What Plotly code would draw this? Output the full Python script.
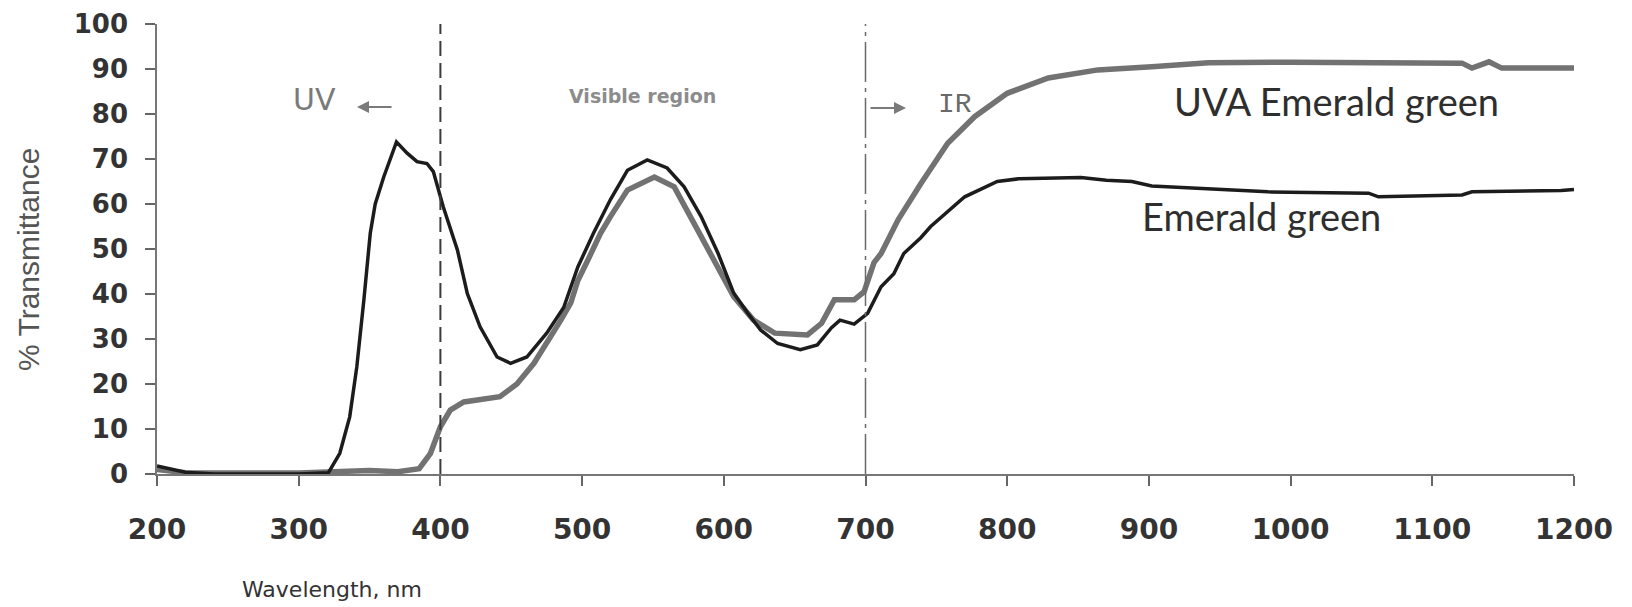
import plotly.graph_objects as go

# ---- data ----
eg_nm = [200, 210, 220, 240, 300, 321, 329, 336, 341, 346, 350.5, 354, 360, 369, 376.5, 383.5, 390.5,
         395, 402, 412, 419, 428, 440, 449.5, 461, 475, 487, 497, 508, 520, 532, 546, 560, 572, 584,
         596, 607, 617, 626, 638, 654, 666, 676, 682, 692, 701.5, 711, 720, 727, 739, 746, 770, 793,
         808, 852, 870, 888, 902, 937, 984, 1055, 1062, 1121, 1128, 1191, 1200]
eg_t = [1.8, 1.0, 0.4, 0, 0, 0.3, 4.6, 12.7, 23.8, 38.7, 53.5, 60, 66, 73.8, 71.3, 69.4, 69,
        67.2, 59.4, 49.8, 40.1, 32.7, 26, 24.6, 26, 31.3, 37, 46, 53.5, 61, 67.5, 69.8, 68, 63.8, 57.2,
        49, 40.2, 35.7, 32, 29, 27.6, 28.7, 32.5, 34.2, 33.3, 35.7, 41.6, 44.5, 49, 52.5, 55, 61.6, 65,
        65.6, 65.9, 65.3, 65, 64, 63.5, 62.7, 62.4, 61.6, 62, 62.7, 63, 63.2]

uva_nm = [200, 220, 300, 330, 350, 370, 385, 393, 400, 407, 416.5, 442, 454, 466, 480, 485, 492, 497,
          504, 508, 513, 520, 532, 551, 565, 579, 593, 607, 621, 636, 659, 669, 678, 692, 699, 706,
          711, 723, 739, 758, 777, 800, 829, 864, 902, 942, 1000, 1060, 1121, 1128, 1140, 1149, 1200]
uva_t = [1.0, 0.3, 0.2, 0.5, 0.8, 0.5, 1.2, 4.6, 10.5, 14.2, 16, 17.2, 20, 24.6, 31.3, 34.2, 38, 43,
         47.5, 50.5, 53.5, 57.2, 63.1, 66, 63.8, 55.7, 47.5, 39.4, 34.2, 31.3, 30.9, 33.5, 38.7, 38.7, 40.5, 47,
         49, 56.5, 64.5, 73.5, 79.4, 84.6, 88, 89.8, 90.5, 91.4, 91.5, 91.5, 91.3, 90.2, 91.6, 90.2, 90.2]

x_ticks = [200, 300, 400, 500, 600, 700, 800, 900, 1000, 1100, 1200]
y_ticks = [0, 10, 20, 30, 40, 50, 60, 70, 80, 90, 100]
region_bounds = [400, 700]

# ---- layout geometry (page pixels; the page body has an 8px margin) ----
OFF = 8
W, H = 1632 - OFF, 607 - OFF
L, R, T, B = 157 - OFF, 1574 - OFF, 24 - OFF, 474 - OFF
pw, ph = R - L, B - T


def px(xp):
    return (xp - OFF - L) / pw


def py(yp):
    return (B - (yp - OFF)) / ph


fig = go.Figure()
fig.add_trace(go.Scatter(x=uva_nm, y=uva_t, mode="lines", name="UVA Emerald green",
                         line=dict(color="#727272", width=5.5)))
fig.add_trace(go.Scatter(x=eg_nm, y=eg_t, mode="lines", name="Emerald green",
                         line=dict(color="#1c1c1c", width=3.5)))

fig.add_shape(type="line", x0=region_bounds[0], x1=region_bounds[0], y0=0, y1=100, xref="x", yref="y",
              line=dict(color="#3a3a3a", width=2, dash="15px,7px"))
fig.add_shape(type="line", x0=region_bounds[1], x1=region_bounds[1], y0=0, y1=100, xref="x", yref="y",
              line=dict(color="#6a6a6a", width=1.5, dash="40px,6px,4px,6px"))

ann = []
# region labels
ann.append(dict(x=px(314), y=py(100), xref="paper", yref="paper", text="UV", showarrow=False,
                font=dict(family="DejaVu Sans", size=30, color="#7a7a7a"), xanchor="center", yanchor="middle"))
ann.append(dict(x=px(357), y=py(107), ax=36, ay=0, xref="paper", yref="paper", text="", showarrow=True,
                arrowhead=2, arrowsize=1.2, arrowwidth=2, arrowcolor="#7a7a7a"))
ann.append(dict(x=px(642), y=py(96), xref="paper", yref="paper", text="Visible region", showarrow=False,
                font=dict(family="DejaVu Sans", size=19, color="#8c8c8c", weight="bold"),
                xanchor="center", yanchor="middle"))
ann.append(dict(x=px(906), y=py(108), ax=-37, ay=0, xref="paper", yref="paper", text="", showarrow=True,
                arrowhead=2, arrowsize=1.2, arrowwidth=2, arrowcolor="#7a7a7a"))
ann.append(dict(x=px(955), y=py(104), xref="paper", yref="paper", text="IR", showarrow=False,
                font=dict(family="Liberation Mono", size=28, color="#6a6a6a"), xanchor="center", yanchor="middle"))
# series labels
ann.append(dict(x=px(1336), y=py(101), xref="paper", yref="paper", text="UVA Emerald green", showarrow=False,
                font=dict(family="Lato", size=38, color="#2e2e2e"), xanchor="center", yanchor="middle"))
ann.append(dict(x=px(1261), y=py(216), xref="paper", yref="paper", text="Emerald green", showarrow=False,
                font=dict(family="Lato", size=38, color="#2e2e2e"), xanchor="center", yanchor="middle"))
# axis titles
ann.append(dict(x=px(28), y=py(260), xref="paper", yref="paper", text="% Transmittance", showarrow=False,
                textangle=-90, font=dict(family="Liberation Sans", size=30, color="#555555"),
                xanchor="center", yanchor="middle"))
ann.append(dict(x=px(240), y=py(604), xref="paper", yref="paper", text="Wavelength, nm", showarrow=False,
                font=dict(family="DejaVu Sans", size=22, color="#333333"), xanchor="left", yanchor="bottom"))

fig.update_layout(
    width=W, height=H,
    margin=dict(l=L, r=W - R, t=T, b=H - B, pad=0, autoexpand=False),
    paper_bgcolor="white", plot_bgcolor="white",
    showlegend=False,
    annotations=ann,
    xaxis=dict(range=[200, 1200], tickvals=x_ticks, ticktext=[str(v) for v in x_ticks],
               automargin=False,
               showgrid=False, zeroline=False, showline=True, linecolor="#777777", linewidth=1.5,
               ticks="outside", ticklen=10, tickcolor="#666666", tickwidth=1.5,
               ticklabelstandoff=20,
               tickfont=dict(family="DejaVu Sans", size=28, color="#333333", weight="bold")),
    yaxis=dict(range=[0, 100], tickvals=y_ticks, ticktext=[str(v) for v in y_ticks],
               automargin=False,
               showgrid=False, zeroline=False, showline=True, linecolor="#777777", linewidth=1.5,
               ticks="outside", ticklen=10, tickcolor="#666666", tickwidth=1.5,
               ticklabelstandoff=12,
               tickfont=dict(family="DejaVu Sans", size=26, color="#333333", weight="bold")),
)

fig.write_html("out.html")
